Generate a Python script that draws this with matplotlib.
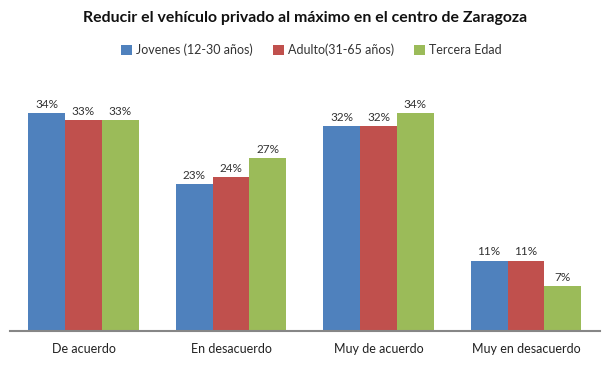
import numpy as np
import matplotlib
matplotlib.use('Agg')
import matplotlib.pyplot as plt

# data
categories = ["De acuerdo", "En desacuerdo", "Muy de acuerdo", "Muy en desacuerdo"]
series_names = ["Jovenes (12-30 años)", "Adulto(31-65 años)", "Tercera Edad"]
jovenes = [34, 23, 32, 11]
adulto = [33, 24, 32, 11]
tercera = [33, 27, 34, 7]

colors = ["#4F81BD", "#C0504D", "#9BBB59"]

plt.rcParams['font.family'] = ['Lato', 'DejaVu Sans']

fig = plt.figure(figsize=(6.07, 3.71), dpi=100)
ax = fig.add_axes([0.016, 0.108, 0.972, 0.69])

x = np.arange(len(categories))
w = 0.75 / 3
for i, (vals, name, col) in enumerate(zip([jovenes, adulto, tercera], series_names, colors)):
    pos = x + (i - 1) * w
    bars = ax.bar(pos, vals, width=w, color=col, label=name, edgecolor='none')
    for b, v in zip(bars, vals):
        ax.text(b.get_x() + b.get_width() / 2, v + 0.5, f"{v}%",
                ha='center', va='bottom', fontsize=8.5, color='#333333')

ax.set_xlim(-0.5, len(categories) - 0.5)
ax.set_ylim(0, 40)
ax.set_yticks([])
ax.set_xticks(x)
ax.set_xticklabels(categories, fontsize=9, color='#222222')
ax.tick_params(axis='x', length=0, pad=9)
for s in ['top', 'right', 'left']:
    ax.spines[s].set_visible(False)
ax.spines['bottom'].set_color('#868686')
ax.spines['bottom'].set_linewidth(1.5)

fig.text(0.503, 0.952, "Reducir el vehículo privado al máximo en el centro de Zaragoza",
         ha='center', va='center', fontsize=11.4, fontweight='bold', color='#111111')
fig.legend(loc='center', bbox_to_anchor=(0.513, 0.865), ncol=3, frameon=False,
           fontsize=9, handlelength=0.9, handleheight=0.9, handletextpad=0.3,
           columnspacing=1.6, labelcolor='#333333')

plt.savefig("out.png", dpi=100)
plt.close()
